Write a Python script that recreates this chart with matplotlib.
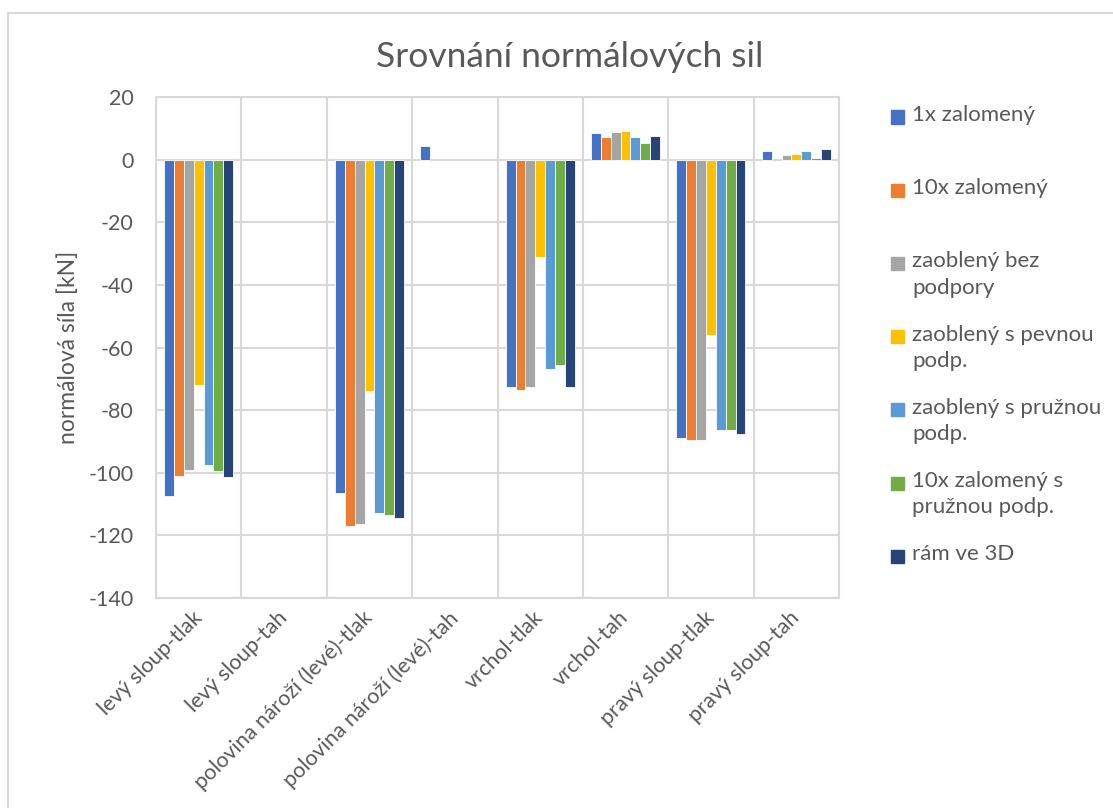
import textwrap
import numpy as np
import matplotlib
matplotlib.use("Agg")
import matplotlib.pyplot as plt
from matplotlib.lines import Line2D
from matplotlib.patches import Rectangle

plt.rcParams['font.family'] = ['Lato', 'DejaVu Sans']
plt.rcParams['axes.unicode_minus'] = False

categories = ['levý sloup-tlak', 'levý sloup-tah', 'polovina nároží (levé)-tlak',
              'polovina nároží (levé)-tah', 'vrchol-tlak', 'vrchol-tah',
              'pravý sloup-tlak', 'pravý sloup-tah']

series_names = ['1x zalomený', '10x zalomený', 'zaoblený bez podpory',
                'zaoblený s pevnou podp.', 'zaoblený s pružnou podp.',
                '10x zalomený s pružnou podp.', 'rám ve 3D']

nan = np.nan
zalomeny_1x = [-107.5, nan, -106.5, 4.3, -72.5, 8.4, -89.0, 2.8]
zalomeny_10x = [-101.0, nan, -117.0, nan, -73.5, 7.3, -89.5, nan]
zaobleny_bez = [-99.0, nan, -116.5, nan, -72.5, 8.8, -89.5, 1.6]
zaobleny_pevna = [-72.0, nan, -74.0, nan, -31.0, 9.2, -56.0, 1.8]
zaobleny_pruzna = [-97.5, nan, -113.0, nan, -67.0, 7.2, -86.5, 2.6]
zalomeny_10x_pruzna = [-99.5, nan, -113.5, nan, -65.5, 5.4, -86.5, 0.6]
ram_3d = [-101.5, nan, -114.5, nan, -72.5, 7.4, -87.5, 3.4]

series = [zalomeny_1x, zalomeny_10x, zaobleny_bez, zaobleny_pevna,
          zaobleny_pruzna, zalomeny_10x_pruzna, ram_3d]
colors = ['#4472C4', '#ED7D31', '#A5A5A5', '#FFC000', '#5B9BD5', '#70AD47', '#264478']

W, H = 1113, 808
txt = '#595959'
grid = '#d9d9d9'

fig = plt.figure(figsize=(W / 100, H / 100), dpi=100)
ax = fig.add_axes([156 / W, 1 - 598 / H, (839 - 156) / W, (598 - 97) / H])

x = np.arange(len(categories))
bw = 0.1155
n = len(series)
for i, (vals, c) in enumerate(zip(series, colors)):
    off = (i - (n - 1) / 2) * bw
    ax.bar(x + off, vals, width=bw, color=c, edgecolor='white', linewidth=0.6, zorder=3)

ax.set_xlim(-0.5, len(categories) - 0.5)
ax.set_ylim(-140, 20)
ax.set_yticks(np.arange(-140, 21, 20))
ax.set_xticks(x)
ax.set_xticks(np.arange(-0.5, len(categories), 1), minor=True)
ax.set_xticklabels(categories, rotation=45, ha='right', va='center',
                   rotation_mode='anchor')
ax.grid(axis='y', color=grid, linewidth=1.5, zorder=0)
ax.grid(axis='x', which='minor', color=grid, linewidth=1.5, zorder=0)
ax.tick_params(axis='both', which='both', length=0, labelsize=15.5, colors=txt)
ax.tick_params(axis='x', pad=12)
ax.tick_params(axis='y', pad=16)
for s in ax.spines.values():
    s.set_color(grid)
    s.set_linewidth(1.5)
ax.set_ylabel('normálová síla [kN]', fontsize=16.5, color=txt, labelpad=7)

fig.text(570 / W, 1 - 57 / H, 'Srovnání normálových sil', fontsize=25.5, color=txt,
         ha='center', va='center')

# legend, Excel style: markers spread evenly down the right side
for k, (name, c) in enumerate(zip(series_names, colors)):
    yc = 117 + k * 73.2
    fig.add_artist(Rectangle((891 / W, 1 - (yc + 6.5) / H), 13 / W, 13 / H,
                             transform=fig.transFigure, color=c))
    fig.text(912 / W, 1 - (yc - 12) / H, textwrap.fill(name, 18), fontsize=16,
             color=txt, ha='left', va='top', linespacing=1.4)

# chart border
fig.add_artist(Line2D([8 / W, 8 / W], [0, 1 - 13 / H], transform=fig.transFigure,
                      color=grid, linewidth=1.5))
fig.add_artist(Line2D([8 / W, 1], [1 - 13 / H, 1 - 13 / H], transform=fig.transFigure,
                      color=grid, linewidth=1.5))

fig.savefig('out.png', dpi=100)
